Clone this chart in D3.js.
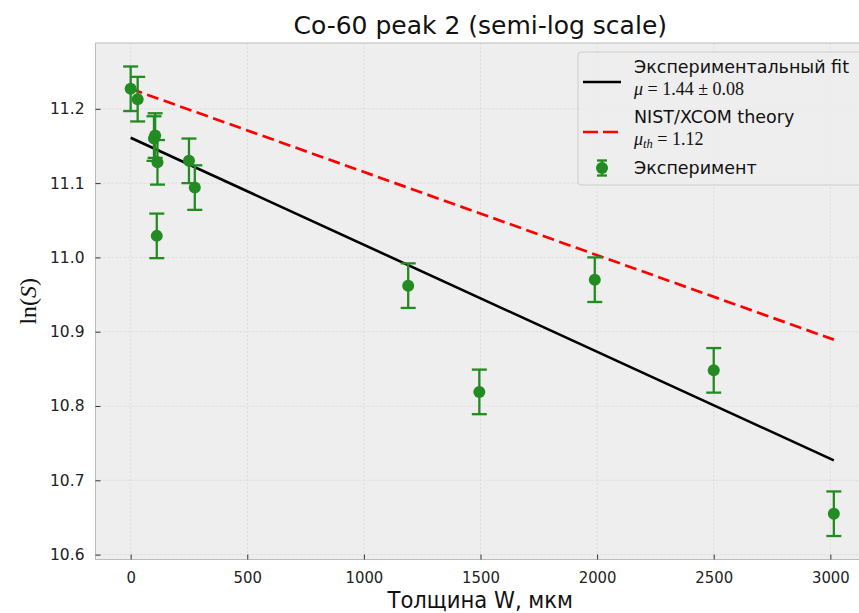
<!DOCTYPE html>
<html>
<head>
<meta charset="utf-8">
<script src="https://cdn.jsdelivr.net/npm/d3@7"></script>
<style>
  html, body { margin: 0; padding: 0; background: #ffffff; }
  svg { display: block; }
  .sans { font-family: "DejaVu Sans", sans-serif; }
  .cond { font-family: "DejaVu Sans Condensed", "DejaVu Sans", sans-serif; font-stretch: condensed; }
  .serif { font-family: "Liberation Serif", "DejaVu Serif", serif; }
</style>
</head>
<body>
<svg id="chart" width="859" height="613"></svg>
<script>
// Absorber thickness, µm
const thickness = [0, 30, 100, 105, 115, 112, 250, 275, 1190, 1495, 1990, 2500, 3015];
// ln of the peak area
const lnS = [11.227, 11.213, 11.160, 11.164, 11.128, 11.029, 11.130, 11.094, 10.962, 10.819, 10.970, 10.848, 10.655];
const lnSErr = [0.03, 0.03, 0.03, 0.03, 0.03, 0.03, 0.03, 0.03, 0.03, 0.03, 0.03, 0.03, 0.03];

// Attenuation coefficients, 1/cm
const muFit = 1.44, muFitErr = 0.08, fitIntercept = 11.161;
const muTheory = 1.12;

const xTicks = [0, 500, 1000, 1500, 2000, 2500, 3000];
const yTicks = [10.6, 10.7, 10.8, 10.9, 11.0, 11.1, 11.2];

const svg = d3.select("#chart");
const plot = { left: 95.5, top: 43, right: 869, bottom: 559.5 };

// matplotlib-style 5% margins around the data
const xMin = d3.min(thickness), xMax = d3.max(thickness);
const yLo = d3.min(lnS.map((v, i) => v - lnSErr[i]));
const yHi = d3.max(lnS.map((v, i) => v + lnSErr[i]));
const xPad = (xMax - xMin) * 0.05, yPad = (yHi - yLo) * 0.05;

const x = d3.scaleLinear().domain([xMin - xPad, xMax + xPad]).range([plot.left, plot.right]);
const y = d3.scaleLinear().domain([yLo - yPad, yHi + yPad]).range([plot.bottom, plot.top]);

const defs = svg.append("defs");
defs.append("clipPath").attr("id", "clip")
  .append("rect").attr("x", plot.left).attr("y", plot.top)
  .attr("width", plot.right - plot.left).attr("height", plot.bottom - plot.top);

// axes background
svg.append("rect").attr("x", plot.left).attr("y", plot.top)
  .attr("width", plot.right - plot.left).attr("height", plot.bottom - plot.top)
  .attr("fill", "#eeeeee");

// grid
const grid = svg.append("g").attr("clip-path", "url(#clip)");
grid.selectAll(".gx").data(xTicks).join("line")
  .attr("x1", d => x(d)).attr("x2", d => x(d))
  .attr("y1", plot.top).attr("y2", plot.bottom)
  .attr("stroke", "#d6d6d6").attr("stroke-width", 0.8).attr("stroke-dasharray", "2,2");
grid.selectAll(".gy").data(yTicks).join("line")
  .attr("x1", plot.left).attr("x2", plot.right)
  .attr("y1", d => y(d)).attr("y2", d => y(d))
  .attr("stroke", "#d6d6d6").attr("stroke-width", 0.8).attr("stroke-dasharray", "2,2");

// frame
svg.append("rect").attr("x", plot.left).attr("y", plot.top)
  .attr("width", plot.right - plot.left).attr("height", plot.bottom - plot.top)
  .attr("fill", "none").attr("stroke", "#bcbcbc").attr("stroke-width", 1);

// axes with inward ticks
const xAxis = svg.append("g").attr("transform", `translate(0,${plot.bottom})`)
  .call(d3.axisBottom(x).tickValues(xTicks).tickFormat(d3.format("d")).tickSize(-5).tickPadding(12));
xAxis.select(".domain").remove();
xAxis.selectAll(".tick line").attr("stroke", "#333").attr("stroke-width", 1);
xAxis.selectAll(".tick text").attr("class", "cond").attr("font-size", 16.5).attr("fill", "#222");

const yAxis = svg.append("g").attr("transform", `translate(${plot.left},0)`)
  .call(d3.axisLeft(y).tickValues(yTicks).tickFormat(d3.format(".1f")).tickSize(-5).tickPadding(11));
yAxis.select(".domain").remove();
yAxis.selectAll(".tick line").attr("stroke", "#333").attr("stroke-width", 1);
yAxis.selectAll(".tick text").attr("class", "sans").attr("font-size", 15.5).attr("fill", "#222");

const lines = svg.append("g").attr("clip-path", "url(#clip)");
const curve = d3.line().x(d => x(d[0])).y(d => y(d[1]));

// exponential attenuation fit: ln S = a - mu*W  (mu in 1/cm, W in µm)
const fitPts = [xMin, xMax].map(w => [w, fitIntercept - muFit * w * 1e-4]);
lines.append("path").attr("d", curve(fitPts))
  .attr("fill", "none").attr("stroke", "#000").attr("stroke-width", 2.6);

// theoretical attenuation anchored at the unattenuated point
const thPts = [xMin, xMax].map(w => [w, lnS[0] - muTheory * w * 1e-4]);
lines.append("path").attr("d", curve(thPts))
  .attr("fill", "none").attr("stroke", "#ff0000").attr("stroke-width", 2.7)
  .attr("stroke-dasharray", "12,5.5");

// measurements with error bars
const green = "#228b22";
const pts = thickness.map((w, i) => ({ w, v: lnS[i], e: lnSErr[i] }));
const eb = svg.append("g");
const cap = 7.5;
pts.forEach(p => {
  const g = eb.append("g");
  g.append("line").attr("x1", x(p.w)).attr("x2", x(p.w))
    .attr("y1", y(p.v - p.e)).attr("y2", y(p.v + p.e))
    .attr("stroke", green).attr("stroke-width", 2.3);
  [p.v - p.e, p.v + p.e].forEach(c => {
    g.append("line").attr("x1", x(p.w) - cap).attr("x2", x(p.w) + cap)
      .attr("y1", y(c)).attr("y2", y(c))
      .attr("stroke", green).attr("stroke-width", 2.3);
  });
  g.append("circle").attr("cx", x(p.w)).attr("cy", y(p.v)).attr("r", 6).attr("fill", green);
});

// title and axis labels
svg.append("text").attr("class", "sans")
  .attr("x", (plot.left + plot.right) / 2 - 2).attr("y", 34)
  .attr("text-anchor", "middle").attr("font-size", 25).attr("fill", "#111")
  .text("Co-60 peak 2 (semi-log scale)");

svg.append("text").attr("class", "cond")
  .attr("x", (plot.left + plot.right) / 2 - 2).attr("y", 608)
  .attr("text-anchor", "middle").attr("font-size", 23.5).attr("fill", "#111")
  .text("Толщина W, мкм");

const yl = svg.append("text").attr("class", "serif")
  .attr("transform", `translate(36,${(plot.top + plot.bottom) / 2}) rotate(-90)`)
  .attr("text-anchor", "middle").attr("font-size", 24).attr("fill", "#111");
yl.append("tspan").text("ln(");
yl.append("tspan").attr("font-style", "italic").text("S");
yl.append("tspan").text(")");

// legend
const lg = svg.append("g");
lg.append("rect").attr("x", 578).attr("y", 52).attr("width", 285).attr("height", 133)
  .attr("rx", 3).attr("fill", "#eeeeee").attr("fill-opacity", 0.8)
  .attr("stroke", "#cccccc").attr("stroke-width", 1);

const hx0 = 583, hx1 = 621, tx = 634;
lg.append("line").attr("x1", hx0).attr("x2", hx1).attr("y1", 82).attr("y2", 82)
  .attr("stroke", "#000").attr("stroke-width", 2.6);
lg.append("text").attr("class", "sans").attr("x", tx).attr("y", 73)
  .attr("font-size", 17.5).attr("fill", "#111").text("Экспериментальный fit");
const m1 = lg.append("text").attr("class", "serif").attr("x", tx).attr("y", 95)
  .attr("font-size", 18).attr("fill", "#111");
m1.append("tspan").attr("font-style", "italic").text("μ");
m1.append("tspan").text(` = ${muFit.toFixed(2)} ± ${muFitErr.toFixed(2)}`);

lg.append("line").attr("x1", hx0).attr("x2", hx1).attr("y1", 132).attr("y2", 132)
  .attr("stroke", "#ff0000").attr("stroke-width", 2.7).attr("stroke-dasharray", "15,5");
lg.append("text").attr("class", "sans").attr("x", tx).attr("y", 123)
  .attr("font-size", 17.5).attr("fill", "#111").text("NIST/XCOM theory");
const m2 = lg.append("text").attr("class", "serif").attr("x", tx).attr("y", 145)
  .attr("font-size", 18).attr("fill", "#111");
m2.append("tspan").attr("font-style", "italic").text("μ");
m2.append("tspan").attr("font-style", "italic").attr("font-size", 12.5).attr("dy", 3).text("th");
m2.append("tspan").attr("dy", -3).text(` = ${muTheory.toFixed(2)}`);

const lx = (hx0 + hx1) / 2, ly = 168;
lg.append("line").attr("x1", lx).attr("x2", lx).attr("y1", ly - 7.5).attr("y2", ly + 7.5)
  .attr("stroke", green).attr("stroke-width", 2.3);
[ly - 7.5, ly + 7.5].forEach(c => lg.append("line")
  .attr("x1", lx - 5).attr("x2", lx + 5).attr("y1", c).attr("y2", c)
  .attr("stroke", green).attr("stroke-width", 2.3));
lg.append("circle").attr("cx", lx).attr("cy", ly).attr("r", 6).attr("fill", green);
lg.append("text").attr("class", "sans").attr("x", tx).attr("y", 174)
  .attr("font-size", 17.5).attr("fill", "#111").text("Эксперимент");
</script>
</body>
</html>
